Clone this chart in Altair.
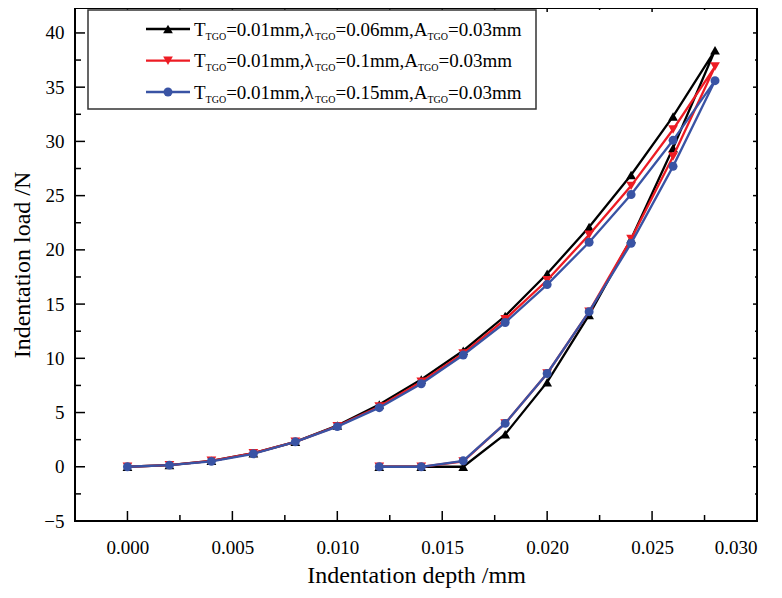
import altair as alt
import pandas as pd

# ---------------- data ----------------
depth_load = [0.000, 0.002, 0.004, 0.006, 0.008, 0.010, 0.012, 0.014,
              0.016, 0.018, 0.020, 0.022, 0.024, 0.026, 0.028]
depth_unload = [0.026, 0.024, 0.022, 0.020, 0.018, 0.016, 0.014, 0.012]

load_black = [0, 0.15, 0.55, 1.25, 2.3, 3.8, 5.75, 8.05, 10.7, 13.9, 17.8, 22.1, 26.9, 32.3, 38.4]
unload_black = [29.4, 21.0, 14.0, 7.8, 3.0, 0, 0, 0]
load_red = [0, 0.15, 0.55, 1.25, 2.3, 3.75, 5.55, 7.85, 10.45, 13.6, 17.2, 21.4, 25.9, 31.1, 36.9]
unload_red = [28.6, 21.0, 14.3, 8.6, 4.0, 0.5, 0, 0]
load_blue = [0, 0.15, 0.5, 1.2, 2.3, 3.7, 5.45, 7.65, 10.3, 13.3, 16.8, 20.7, 25.1, 30.1, 35.6]
unload_blue = [27.7, 20.6, 14.3, 8.6, 4.0, 0.55, 0, 0]

lambdas = ["0.06", "0.1", "0.15"]
series_colors = ["#000000", "#ed1c24", "#3953a4"]
series_shapes = ["triangle-up", "triangle-down", "circle"]
series_sizes = [95, 95, 80]

x_major = [0.000, 0.005, 0.010, 0.015, 0.020, 0.025, 0.030]
x_minor = [0.0025, 0.0075, 0.0125, 0.0175, 0.0225, 0.0275]
y_major = [-5, 0, 5, 10, 15, 20, 25, 30, 35, 40]
y_minor = [-2.5, 2.5, 7.5, 12.5, 17.5, 22.5, 27.5, 32.5, 37.5]

X_DOMAIN = [-0.0025, 0.030]
Y_DOMAIN = [-5, 42.3]
W, H = 682, 513
FONT = "Liberation Serif"

loads = [(load_black, unload_black), (load_red, unload_red), (load_blue, unload_blue)]

xs = alt.Scale(domain=X_DOMAIN, nice=False, zero=False)
ys = alt.Scale(domain=Y_DOMAIN, nice=False, zero=False)
xaxis = alt.Axis(title="Indentation depth /mm", values=x_major, format=".3f",
                 ticks=False, domain=False, grid=False, labelPadding=17, titlePadding=6,
                 labelFont=FONT, titleFont=FONT, labelFontSize=19, titleFontSize=24,
                 labelColor="black", titleColor="black", titleFontWeight="normal")
yaxis = alt.Axis(title="Indentation load /N", values=y_major, format="d",
                 ticks=False, domain=False, grid=False, labelPadding=11, titlePadding=9,
                 labelFont=FONT, titleFont=FONT, labelFontSize=19, titleFontSize=24,
                 labelColor="black", titleColor="black", titleFontWeight="normal")

layers = []

# ---------------- tick marks (inward) ----------------
def xticks(vals, y0, y1):
    return alt.Chart(pd.DataFrame({"depth": vals})).mark_rule(color="black", strokeWidth=1.5).encode(
        x=alt.X("depth:Q", scale=xs, axis=xaxis), y=alt.value(y0), y2=alt.value(y1))

def yticks(vals, x0, x1):
    return alt.Chart(pd.DataFrame({"load": vals})).mark_rule(color="black", strokeWidth=1.5).encode(
        y=alt.Y("load:Q", scale=ys, axis=yaxis), x=alt.value(x0), x2=alt.value(x1))

# ---------------- series ----------------
for i, (ld, ul) in enumerate(loads):
    d = depth_load + depth_unload
    v = ld + ul
    df = pd.DataFrame({"depth": d, "load": v, "idx": list(range(len(d)))})
    base = alt.Chart(df).encode(
        x=alt.X("depth:Q", scale=xs, axis=xaxis),
        y=alt.Y("load:Q", scale=ys, axis=yaxis),
        order="idx:Q")
    layers.append(base.mark_line(color=series_colors[i], strokeWidth=2.3))
    layers.append(base.mark_point(shape=series_shapes[i], filled=True, size=series_sizes[i],
                                  color=series_colors[i], opacity=1))

layers += [xticks(x_major, H, H - 10), xticks(x_minor, H, H - 6),
           xticks(x_major, 0, 4), xticks(x_minor, 0, 2),
           yticks(y_major, 0, 10), yticks(y_minor, 0, 6),
           yticks(y_major, W, W - 4), yticks(y_minor, W, W - 2)]

# ---------------- legend ----------------
one = pd.DataFrame({"a": [0]})
BX0, BX1, BY0, BY1 = 13, 461, 2, 101
layers.append(alt.Chart(one).mark_rect(fill="white", stroke="#333333", strokeWidth=1.5).encode(
    x=alt.value(BX0), x2=alt.value(BX1), y=alt.value(BY0), y2=alt.value(BY1)))

WIDTHS = {'T': 0.611, 'G': 0.722, 'O': 0.722, '=': 0.564, '0': 0.5, '1': 0.5, '3': 0.5,
          '5': 0.5, '6': 0.5, '.': 0.25, 'm': 0.778, ',': 0.25, 'A': 0.722, 'λ': 0.55}
MAIN, SUB = 19, 10

def tw(s, fs):
    return sum(WIDTHS.get(c, 0.5) for c in s) * fs

row_y = [21, 52.7, 84]
for i, lam in enumerate(lambdas):
    cy = row_y[i]
    layers.append(alt.Chart(one).mark_rule(color=series_colors[i], strokeWidth=2.3).encode(
        x=alt.value(71), x2=alt.value(115), y=alt.value(cy)))
    layers.append(alt.Chart(one).mark_point(shape=series_shapes[i], filled=True,
                                            size=series_sizes[i], color=series_colors[i],
                                            opacity=1).encode(x=alt.value(93), y=alt.value(cy)))
    segs = [("T", MAIN), ("TGO", SUB), ("=0.01mm,λ", MAIN), ("TGO", SUB),
            ("=" + lam + "mm,A", MAIN), ("TGO", SUB), ("=0.03mm", MAIN)]
    px = 119
    base_y = cy + 6.5
    for s, fs in segs:
        yy = base_y + (4 if fs == SUB else 0)
        layers.append(alt.Chart(one).mark_text(text=s, font=FONT, fontSize=fs, align="left",
                                               baseline="alphabetic", color="black").encode(
            x=alt.value(px), y=alt.value(yy)))
        px += tw(s, fs)

chart = alt.layer(*layers).properties(
    width=W, height=H,
    autosize=alt.AutoSizeParams(type="none"),
    padding={"left": 67, "top": 0, "right": 17, "bottom": 69},
).configure_view(stroke="black", strokeWidth=2).configure_axis(
    labelFont=FONT, titleFont=FONT, labelFontSize=19, titleFontSize=24,
    labelColor="black", titleColor="black", titleFontWeight="normal"
)

chart.save("out.html", embed_options={"renderer": "svg", "actions": False})
